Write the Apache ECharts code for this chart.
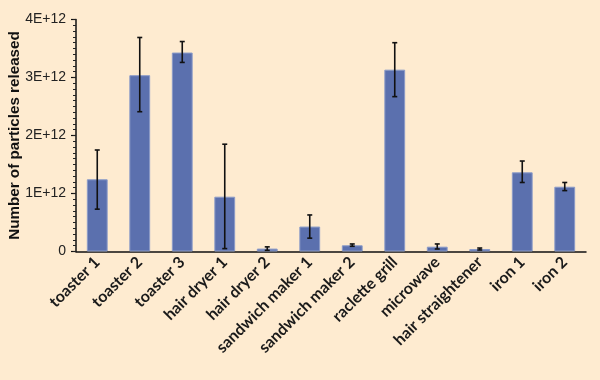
<!DOCTYPE html>
<html>
<head>
<meta charset="utf-8">
<script src="https://cdn.jsdelivr.net/npm/echarts@6/dist/echarts.min.js"></script>
<style>
html,body{margin:0;padding:0;background:#feebd0;}
#chart{width:600px;height:380px;}
</style>
</head>
<body>
<div id="chart"></div>
<script>
const categories = ['toaster 1','toaster 2','toaster 3','hair dryer 1','hair dryer 2','sandwich maker 1','sandwich maker 2','raclette grill','microwave','hair straightener','iron 1','iron 2'];
const values   = [1.245e12, 3.04e12, 3.43e12, 0.945e12, 0.05e12, 0.43e12, 0.107e12, 3.135e12, 0.083e12, 0.043e12, 1.365e12, 1.117e12];
const errHigh  = [1.75e12, 3.69e12, 3.62e12, 1.85e12, 0.08e12, 0.63e12, 0.13e12, 3.6e12, 0.13e12, 0.06e12, 1.56e12, 1.19e12];
const errLow   = [0.73e12, 2.41e12, 3.26e12, 0.05e12, 0.02e12, 0.23e12, 0.09e12, 2.67e12, 0.043e12, 0.026e12, 1.19e12, 1.05e12];
const yTicks   = [0, 1e12, 2e12, 3e12, 4e12];

const chart = echarts.init(document.getElementById('chart'));
const errData = categories.map((c, i) => [i, errLow[i], errHigh[i]]);
const yMin = yTicks[0], yMax = yTicks[yTicks.length - 1], yStep = yTicks[1] - yTicks[0];

chart.setOption({
  backgroundColor: '#feebd0',
  animation: false,
  grid: { left: 76, right: 14, top: 19.5, bottom: 128.5, containLabel: false, outerBoundsMode: 'none' },
  xAxis: {
    type: 'category',
    data: categories,
    boundaryGap: true,
    axisLine: { lineStyle: { color: '#111', width: 1.5 } },
    axisTick: { alignWithLabel: false, length: 5, lineStyle: { color: '#111', width: 1.2 } },
    axisLabel: {
      rotate: 45, interval: 0, color: '#1a1a1a', fontFamily: 'Lato', fontWeight: 'bold',
      fontSize: 16, margin: 8
    }
  },
  yAxis: [
    {
      type: 'value',
      min: yMin, max: yMax, interval: yStep,
      name: 'Number of particles released',
      nameLocation: 'middle', nameGap: 54, nameRotate: 90, nameMoveOverlap: false,
      nameTextStyle: { fontFamily: 'Liberation Sans', fontWeight: 'bold', fontSize: 15.2, color: '#111' },
      axisLine: { show: true, lineStyle: { color: '#111', width: 1.5 } },
      axisTick: { show: true, length: 5, lineStyle: { color: '#111', width: 1.2 } },
      splitLine: { show: false },
      axisLabel: {
        color: '#222', fontFamily: 'Liberation Sans', fontSize: 14, margin: 10,
        formatter: v => v === 0 ? '0' : (v / 1e12) + 'E+12'
      }
    },
    {
      type: 'value',
      position: 'left',
      min: yMin, max: yMax, interval: yStep / 10,
      axisLine: { show: false },
      axisTick: { show: true, length: 3, lineStyle: { color: '#222', width: 1 } },
      axisLabel: { show: false },
      splitLine: { show: false }
    }
  ],
  series: [
    {
      type: 'bar',
      data: values,
      barWidth: '49%',
      itemStyle: { color: '#5b70ae', borderColor: '#8b9bc8', borderWidth: 1 }
    },
    {
      type: 'custom',
      data: errData,
      z: 10,
      renderItem: function (params, api) {
        const x = api.value(0);
        const lo = api.coord([x, api.value(1)]);
        const hi = api.coord([x, api.value(2)]);
        const hw = 2.5;
        const style = { stroke: '#111', lineWidth: 1.6 };
        return {
          type: 'group',
          children: [
            { type: 'line', shape: { x1: hi[0], y1: hi[1], x2: lo[0], y2: lo[1] }, style },
            { type: 'line', shape: { x1: hi[0] - hw, y1: hi[1], x2: hi[0] + hw, y2: hi[1] }, style },
            { type: 'line', shape: { x1: lo[0] - hw, y1: lo[1], x2: lo[0] + hw, y2: lo[1] }, style }
          ]
        };
      }
    }
  ]
});
</script>
</body>
</html>
